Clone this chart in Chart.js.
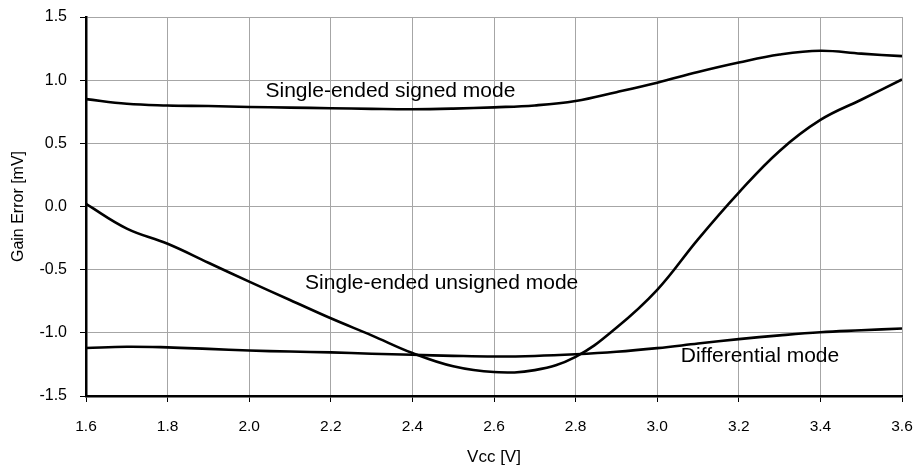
<!DOCTYPE html>
<html>
<head>
<meta charset="utf-8">
<script src="https://cdn.jsdelivr.net/npm/chart.js@4/dist/chart.umd.min.js"></script>
<style>
  body { margin: 0; background: #fff; }
  canvas { display: block; }
</style>
</head>
<body>
<canvas id="gainChart" width="917" height="468"></canvas>
<script>
// Vcc sweep points [V]
const vcc = [1.6, 1.7, 1.8, 1.9, 2.0, 2.1, 2.2, 2.3, 2.4, 2.5, 2.6, 2.7, 2.8, 2.9, 3.0, 3.1, 3.2, 3.3, 3.4, 3.5, 3.6];

// Gain error [mV] per mode
const signedMode = [0.85, 0.813, 0.80, 0.795, 0.788, 0.783, 0.778, 0.773, 0.77, 0.775, 0.785, 0.80, 0.835, 0.905, 0.98, 1.065, 1.14, 1.203, 1.233, 1.21, 1.19];
const unsignedMode = [0.02, -0.175, -0.295, -0.445, -0.595, -0.74, -0.885, -1.02, -1.16, -1.265, -1.31, -1.295, -1.19, -0.96, -0.66, -0.26, 0.11, 0.44, 0.685, 0.845, 1.005];
const differentialMode = [-1.12, -1.11, -1.115, -1.127, -1.14, -1.148, -1.155, -1.165, -1.174, -1.182, -1.187, -1.183, -1.17, -1.15, -1.121, -1.085, -1.05, -1.02, -0.995, -0.98, -0.966];

// in-plot captions, anchored in data units
const captions = [
    { text: 'Single-ended signed mode', x: 2.04, y: 0.91 },
    { text: 'Single-ended unsigned mode', x: 2.137, y: -0.605 },
    { text: 'Differential mode', x: 3.058, y: -1.187 }
];

const FONT = "'Liberation Sans', Arial, sans-serif";

function toPoints(values) {
    return vcc.map((v, i) => ({ x: v, y: values[i] }));
}

function curve(label, values) {
    return {
        label: label,
        data: toPoints(values),
        borderColor: '#000',
        borderWidth: 2.6,
        pointRadius: 0,
        fill: false,
        tension: 0.4
    };
}

// draws the captions next to the curves
const captionPlugin = {
    id: 'captions',
    afterDatasetsDraw(chart) {
        const ctx = chart.ctx;
        const xs = chart.scales.x, ys = chart.scales.y;
        ctx.save();
        ctx.font = '21px ' + FONT;
        ctx.fillStyle = '#000';
        ctx.textAlign = 'left';
        ctx.textBaseline = 'middle';
        captions.forEach(c => {
            ctx.fillText(c.text, xs.getPixelForValue(c.x), ys.getPixelForValue(c.y));
        });
        ctx.restore();
    }
};

new Chart(document.getElementById('gainChart').getContext('2d'), {
    type: 'line',
    data: {
        datasets: [
            curve('Single-ended signed mode', signedMode),
            curve('Single-ended unsigned mode', unsignedMode),
            curve('Differential mode', differentialMode)
        ]
    },
    options: {
        responsive: false,
        devicePixelRatio: 1,
        animation: false,
        layout: {
            padding: { left: 0, right: 15, top: 17, bottom: 0 }
        },
        plugins: {
            legend: { display: false },
            tooltip: { enabled: false }
        },
        scales: {
            x: {
                type: 'linear',
                min: 1.6,
                max: 3.6,
                afterFit: scale => {
                    scale.height = 72;
                    scale.paddingLeft = 0;
                    scale.paddingRight = 0;
                },
                grid: {
                    color: '#a6a6a6',
                    lineWidth: 1,
                    tickColor: '#000',
                    tickLength: 6
                },
                border: { color: '#000', width: 2.5 },
                ticks: {
                    stepSize: 0.2,
                    padding: 15,
                    color: '#000',
                    font: { family: FONT, size: 15.5 },
                    maxRotation: 0,
                    callback: v => v.toFixed(1)
                },
                title: {
                    display: true,
                    text: 'Vcc [V]',
                    color: '#000',
                    font: { family: FONT, size: 17 },
                    padding: { top: 0, bottom: 0 }
                }
            },
            y: {
                min: -1.5,
                max: 1.5,
                afterFit: scale => {
                    scale.width = 86;
                    scale.paddingTop = 0;
                    scale.paddingBottom = 0;
                },
                grid: {
                    color: '#a6a6a6',
                    lineWidth: 1,
                    tickColor: '#000',
                    tickLength: 6
                },
                border: { color: '#000', width: 2.5 },
                ticks: {
                    stepSize: 0.5,
                    padding: 13,
                    color: '#000',
                    font: { family: FONT, size: 16 },
                    callback: v => v.toFixed(1)
                },
                title: {
                    display: true,
                    text: 'Gain Error [mV]',
                    color: '#000',
                    font: { family: FONT, size: 16 },
                    padding: { top: 9, bottom: 0 }
                }
            }
        }
    },
    plugins: [captionPlugin]
});
</script>
</body>
</html>
